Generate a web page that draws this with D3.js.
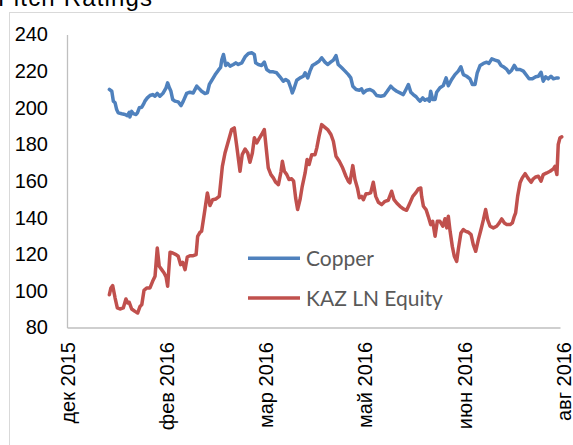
<!DOCTYPE html>
<html>
<head>
<meta charset="utf-8">
<script src="https://cdn.jsdelivr.net/npm/d3@7"></script>
<style>
body { margin: 0; background: #fff; }
svg { display: block; }
</style>
</head>
<body>
<svg id="chart" width="573" height="445"></svg>
<script>
// x axis: days counted from 20 Dec 2015, one label every 45 days
var tickDays = [0, 45, 90, 135, 180, 225];
var tickLabels = ["дек 2015", "фев 2016", "мар 2016", "май 2016", "июн 2016", "авг 2016"];
var yTicks = [80, 100, 120, 140, 160, 180, 200, 220, 240];
var seriesNames = ["Copper", "KAZ LN Equity"];

var copperDays = [19.2,20.3,21.0,21.8,22.5,23.2,24.8,26.3,27.3,28.2,
	28.5,29.3,30.0,31.3,31.9,32.8,33.9,34.6,35.3,36.4,
	37.6,38.8,39.9,40.9,42.1,43.6,44.9,45.6,46.4,47.1,
	47.9,48.9,50.4,51.7,52.7,54.2,55.7,57.2,58.8,60.0,
	61.0,62.5,63.6,64.5,65.6,67.1,68.6,69.6,70.1,70.9,
	71.9,72.8,73.9,75.4,76.5,77.6,79.2,80.7,82.2,83.7,
	84.9,85.5,86.7,88.2,89.4,90.5,92.0,93.5,95.0,96.5,
	98.0,99.1,100.3,101.4,102.1,103.0,104.1,105.6,107.1,107.9,
	109.1,110.1,111.2,112.7,114.2,115.4,116.9,118.1,119.6,120.7,
	121.9,122.9,124.5,126.0,127.5,128.6,129.5,131.0,132.5,133.5,
	134.3,135.8,137.3,138.8,140.3,142.2,143.7,145.1,146.7,147.9,
	149.4,150.9,152.4,153.6,154.7,155.8,156.9,158.2,159.2,160.0,
	161.2,162.2,163.3,164.2,164.8,165.7,166.8,167.5,169.0,170.5,
	171.8,172.8,174.3,175.8,177.3,178.5,179.6,181.1,182.6,183.7,
	184.9,185.9,187.2,188.7,190.2,191.2,192.5,194.0,195.5,196.7,
	197.7,199.3,200.3,201.5,202.7,203.8,205.3,206.8,208.3,209.4,
	210.9,212.4,213.6,214.8,215.8,216.9,218.1,219.3,220.4,221.9,
	222.6];
var copperValues = [210.0,209.0,203.6,202.7,199.0,197.2,196.7,196.3,195.7,197.5,
	195.0,198.0,196.8,196.3,197.2,200.0,200.3,201.8,203.6,205.4,
	206.7,207.2,206.3,207.8,206.3,208.1,210.9,213.6,210.9,209.0,
	204.5,203.6,203.2,201.2,203.6,207.8,208.5,208.1,211.8,210.3,
	209.0,207.8,208.1,212.7,215.0,218.0,220.5,222.0,226.0,229.1,
	223.1,224.2,222.7,223.6,224.5,223.6,224.5,227.8,229.6,230.0,
	229.1,224.5,223.6,223.1,224.9,220.9,219.6,219.6,219.1,216.9,
	214.5,215.4,214.5,210.9,208.1,210.9,215.0,216.3,217.2,219.1,
	216.3,220.0,223.1,224.2,225.4,227.3,224.9,223.6,225.0,226.0,
	228.5,223.6,221.8,220.0,218.1,216.3,211.8,210.0,209.6,210.3,
	208.1,209.6,210.0,209.0,206.7,206.3,206.7,209.0,211.8,210.3,
	209.0,208.1,207.2,210.0,212.7,208.5,207.2,206.0,204.5,203.6,
	205.4,204.1,204.8,203.6,209.0,204.5,204.5,208.5,210.9,212.1,
	216.3,212.0,215.4,218.1,220.0,222.4,218.1,217.2,215.8,212.7,
	212.7,219.1,223.1,224.2,224.9,224.2,226.7,226.0,225.4,223.1,
	222.4,220.9,219.1,220.5,223.1,220.9,220.9,220.0,217.6,215.8,
	215.8,216.9,217.2,219.4,214.5,216.9,215.8,217.2,215.8,216.3,
	216.3];

var kazDays = [19.2,19.9,20.7,21.8,22.8,24.0,25.5,26.7,27.5,28.2,
	29.3,30.8,32.0,33.1,33.9,34.9,36.1,37.6,38.8,39.9,
	40.9,41.8,42.9,44.0,44.9,45.6,46.7,47.9,49.4,50.4,
	51.5,52.4,53.5,54.5,55.7,57.2,58.5,59.2,60.3,61.0,
	61.8,62.5,63.6,64.8,66.0,67.5,69.0,70.4,71.6,73.1,
	74.6,75.8,76.9,78.4,79.4,80.7,81.9,82.9,84.0,84.9,
	86.0,87.0,88.2,89.4,90.5,91.2,92.4,93.5,94.6,95.8,
	97.0,97.6,98.5,99.6,100.6,101.8,102.7,103.6,104.5,105.6,
	106.6,107.9,108.8,109.7,110.9,112.4,113.2,114.2,115.4,116.6,
	118.1,119.6,120.7,121.9,123.4,124.9,126.4,127.5,128.2,129.5,
	130.5,131.6,132.5,133.5,134.3,135.5,136.5,137.6,138.8,139.9,
	141.1,142.6,144.1,145.6,147.1,148.2,149.4,150.9,152.4,153.9,
	155.4,156.7,158.2,159.2,160.3,160.7,161.5,162.7,163.7,164.8,
	165.7,166.8,167.8,169.0,170.3,171.3,172.1,172.8,173.6,174.6,
	175.5,176.6,177.3,178.5,179.6,180.7,181.9,183.1,184.1,185.2,
	186.4,187.6,188.7,189.7,190.6,191.7,193.2,194.7,195.9,197.0,
	198.2,199.3,200.8,201.8,202.7,203.3,204.2,205.3,206.3,207.6,
	208.8,210.3,211.3,212.4,213.6,214.8,215.8,217.4,218.9,220.4,
	221.1,222.0,222.6,223.4,224.2];
var kazValues = [97.9,101.6,102.9,96.1,90.7,90.1,90.7,95.6,93.4,93.7,
	90.1,88.8,87.9,91.5,92.5,100.3,101.6,101.6,105.2,108.0,
	123.4,113.4,111.6,109.8,107.6,102.5,121.1,120.7,119.8,118.9,
	114.3,115.6,111.6,118.5,119.2,119.2,119.8,129.8,132.0,132.5,
	138.9,144.4,153.5,146.6,149.8,150.2,151.6,168.0,175.3,181.7,
	188.1,189.0,179.3,165.3,174.4,177.5,175.3,170.2,175.3,183.6,
	180.8,183.0,185.4,188.1,175.3,167.2,163.5,161.7,159.3,158.0,
	165.3,170.8,165.3,163.5,160.8,161.2,159.9,150.8,144.4,149.8,
	157.1,164.4,171.7,169.0,174.4,174.4,178.1,184.4,190.8,189.6,
	188.1,185.4,181.7,173.5,170.8,167.2,162.6,159.9,159.0,168.4,
	160.8,156.2,150.8,151.6,149.8,153.1,153.1,153.5,159.3,151.6,
	148.4,147.1,148.9,149.5,154.4,149.8,148.0,146.2,144.8,144.0,
	148.0,151.6,153.8,155.7,156.2,151.6,146.2,144.4,140.7,136.2,
	138.0,129.8,138.0,138.0,135.3,139.4,134.4,140.7,132.5,124.3,
	118.9,116.1,122.5,131.6,133.5,132.5,132.0,130.7,125.3,121.6,
	128.0,133.5,138.9,144.4,138.9,135.3,134.4,135.3,137.1,139.3,
	137.1,136.2,136.2,137.1,140.7,142.6,151.6,159.0,161.7,164.0,
	161.7,159.3,161.2,162.2,162.6,159.9,163.5,164.4,165.3,166.6,
	168.0,163.5,179.9,183.6,184.1];

var svg = d3.select("#chart");
var colors = ["#4f81bd", "#c0504d"];
var axisFont = "'Liberation Sans', Arial, sans-serif";

// outer chart border (runs past the right and bottom edge)
svg.append("rect")
	.attr("x", 9.5).attr("y", 12.5)
	.attr("width", 620).attr("height", 480)
	.attr("fill", "none")
	.attr("stroke", "#d9d9d9");

// title, cut by the top of the picture
svg.append("text")
	.attr("x", -2).attr("y", 6)
	.attr("textLength", 154)
	.attr("lengthAdjust", "spacing")
	.style("font-family", axisFont)
	.style("font-size", "24px")
	.attr("fill", "#000")
	.text("Fitch Ratings");

// scales
var x = d3.scaleLinear().domain([0, 223.4]).range([67, 560]);
var y = d3.scaleLinear().domain([80, 240]).range([327.5, 34.5]);

// y axis
var yAxis = svg.append("g")
	.attr("transform", "translate(" + x(0) + ",0)")
	.call(d3.axisLeft(y).tickValues(yTicks).tickSize(0).tickPadding(19));
yAxis.select(".domain").attr("stroke", "#bfbfbf").attr("stroke-width", 1.3);
yAxis.selectAll("text")
	.style("font-family", axisFont)
	.style("font-size", "20px")
	.attr("fill", "#000");

// x axis, labels turned upright
var xAxis = svg.append("g")
	.attr("transform", "translate(0," + y(80) + ")")
	.call(d3.axisBottom(x).tickValues(tickDays).tickSize(0)
		.tickFormat(function (d, i) { return tickLabels[i]; }));
xAxis.select(".domain").attr("stroke", "#bfbfbf").attr("stroke-width", 1.3);
xAxis.selectAll("text")
	.attr("transform", "rotate(-90)")
	.attr("x", -14.5)
	.attr("y", 0)
	.attr("dy", "0.35em")
	.style("text-anchor", "end")
	.style("font-family", axisFont)
	.style("font-size", "20px")
	.attr("fill", "#000");

// lines
var line = d3.line()
	.x(function (d) { return x(d[0]); })
	.y(function (d) { return y(d[1]); });

var series = [d3.zip(copperDays, copperValues), d3.zip(kazDays, kazValues)];

svg.selectAll("path.series")
	.data(series)
	.enter()
	.append("path")
	.attr("class", "series")
	.attr("d", line)
	.attr("fill", "none")
	.attr("stroke", function (d, i) { return colors[i]; })
	.attr("stroke-width", 3.5)
	.attr("stroke-linejoin", "round")
	.attr("stroke-linecap", "round");

// legend inside the plot
var legend = svg.selectAll("g.legend")
	.data(seriesNames)
	.enter()
	.append("g")
	.attr("class", "legend")
	.attr("transform", function (d, i) { return "translate(248," + (258.3 + i * 39.7) + ")"; });

legend.append("line")
	.attr("x1", 0).attr("x2", 52)
	.attr("stroke", function (d, i) { return colors[i]; })
	.attr("stroke-width", 3.5);

legend.append("text")
	.attr("x", 58)
	.attr("dy", "0.36em")
	.style("font-family", "Lato, 'Open Sans', sans-serif")
	.style("font-size", "21px")
	.attr("fill", "#595959")
	.text(function (d) { return d; });
</script>
</body>
</html>
